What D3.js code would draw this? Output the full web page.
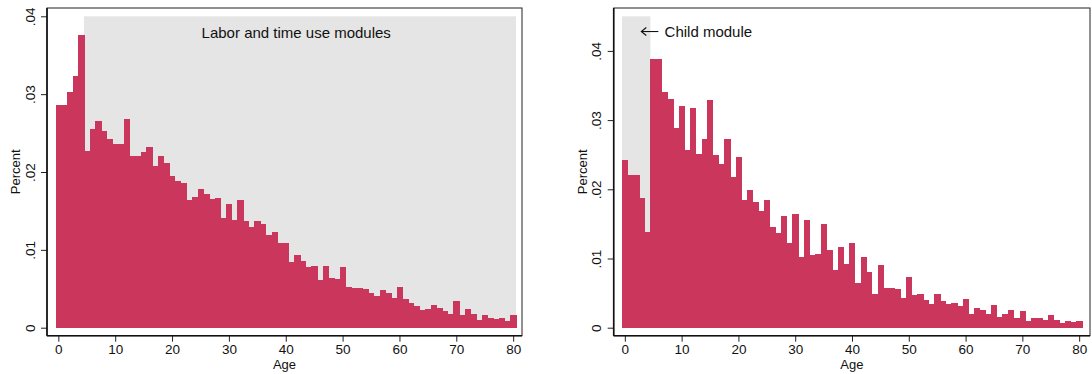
<!DOCTYPE html>
<html>
<head>
<meta charset="utf-8">
<script src="https://cdn.jsdelivr.net/npm/d3@7"></script>
<style>
body{margin:0;background:#fff;}
text{font-family:"Liberation Sans",Arial,sans-serif;fill:#111;}
</style>
</head>
<body>
<svg id="fig" width="1092" height="374"></svg>
<script>
///--------------------Data
var ages = d3.range(0, 81);
var laborPct = [
	.0286,.0286,.0303,.0323,.0376,.0227,.0255,.0265,.0253,.0242,
	.0236,.0236,.0268,.0221,.0221,.0226,.0232,.0208,.0221,.0211,
	.0195,.0189,.0186,.0164,.0168,.0178,.0172,.0165,.0166,.0141,
	.0159,.0138,.0164,.0137,.0129,.0137,.0133,.0119,.0123,.0109,
	.0109,.0084,.0093,.0086,.0078,.0079,.0061,.0079,.0064,.0062,
	.0078,.0052,.0051,.0051,.0050,.0045,.0041,.0048,.0045,.0038,
	.0052,.0037,.0032,.0028,.0023,.0024,.0029,.0025,.0021,.0018,
	.0034,.0016,.0024,.0018,.0010,.0016,.0012,.0011,.0012,.0009,
	.0016];
var childPct = [
	.0242,.0220,.0221,.0188,.0139,.0389,.0389,.0340,.0330,.0289,
	.0320,.0257,.0317,.0251,.0273,.0329,.0250,.0237,.0273,.0218,
	.0247,.0185,.0199,.0182,.0168,.0184,.0145,.0137,.0161,.0122,
	.0165,.0102,.0155,.0105,.0106,.0150,.0112,.0083,.0117,.0092,
	.0122,.0064,.0102,.0081,.0048,.0090,.0057,.0057,.0056,.0043,
	.0073,.0047,.0048,.0040,.0034,.0048,.0038,.0034,.0036,.0031,
	.0041,.0020,.0028,.0025,.0020,.0033,.0015,.0020,.0025,.0014,
	.0024,.0010,.0014,.0014,.0011,.0018,.0011,.0007,.0010,.0008,
	.0010];
// shaded module range: [age from, age to, height]
var shadeLabor = [4.5, 80.5, 0.04];
var shadeChild = [-0.5, 4.5, 0.045];
var yTicks = [0, .01, .02, .03, .04];
var yTickLabels = ["0", ".01", ".02", ".03", ".04"];
var xTicks = [0, 10, 20, 30, 40, 50, 60, 70, 80];

///--------------------Geometry
var barColor = "#cb375c",
	shadeColor = "#e5e5e5",
	frameTop = 8,
	frameBottom = 335.7,
	yZero = 327.7;

var svg = d3.select("#fig");

///--------------------Build
dessin({left:47, right:522, bx0:55.5, bx1:516, y04:16.3}, laborPct, shadeLabor, "labor");
dessin({left:613.7, right:1090, bx0:622, bx1:1082, y04:50.9}, childPct, shadeChild, "child");

function dessin(c, vals, shade, id){
	var g = svg.append("g").attr("id", "g_" + id);
	var x = d3.scaleLinear().domain([-0.5, 80.5]).range([c.bx0, c.bx1]);
	var y = d3.scaleLinear().domain([0, 0.04]).range([yZero, c.y04]);

	g.append("rect")
		.attr("x", x(shade[0]))
		.attr("y", y(shade[2]))
		.attr("width", x(shade[1]) - x(shade[0]))
		.attr("height", y(0) - y(shade[2]))
		.attr("fill", shadeColor);

	g.selectAll(".bar")
		.data(ages)
		.enter()
		.append("rect")
		.attr("class", "bar")
		.attr("x", function(d){ return x(d - 0.5); })
		.attr("y", function(d){ return y(vals[d]); })
		.attr("width", function(d){ return x(d + 0.5) - x(d - 0.5) + 0.6; })
		.attr("height", function(d){ return y(0) - y(vals[d]); })
		.attr("fill", barColor)
		.attr("shape-rendering", "crispEdges");

	// frame
	g.append("rect")
		.attr("x", c.left)
		.attr("y", frameTop)
		.attr("width", c.right - c.left)
		.attr("height", frameBottom - frameTop)
		.attr("fill", "none")
		.attr("stroke", "#222")
		.attr("stroke-width", 1);

	var ax = g.append("g")
		.attr("transform", "translate(" + c.left + ",0)")
		.call(d3.axisLeft(y).tickValues(yTicks).tickSize(6)
			.tickFormat(function(d, i){ return yTickLabels[i]; }));
	ax.select(".domain").remove();
	ax.selectAll("text")
		.attr("x", null).attr("dy", null)
		.attr("text-anchor", "middle")
		.attr("transform", "translate(-12.5,0) rotate(-90)")
		.attr("font-size", 13.5)
		.attr("font-family", null);

	var bx = g.append("g")
		.attr("transform", "translate(0," + frameBottom + ")")
		.call(d3.axisBottom(x).tickValues(xTicks).tickSize(6));
	bx.select(".domain").remove();
	bx.selectAll("text").attr("font-size", 13.5).attr("font-family", null);

	g.selectAll(".tick line").attr("stroke", "#222");

	// heavier axis lines
	g.append("line")
		.attr("x1", c.left).attr("x2", c.left)
		.attr("y1", frameTop).attr("y2", frameBottom)
		.attr("stroke", "#111").attr("stroke-width", 1.6);
	g.append("line")
		.attr("x1", c.left).attr("x2", c.right)
		.attr("y1", frameBottom).attr("y2", frameBottom)
		.attr("stroke", "#111").attr("stroke-width", 1.6);

	g.append("text")
		.text("Percent")
		.attr("text-anchor", "middle")
		.attr("font-size", 13)
		.attr("transform", "translate(" + (c.left - 27) + "," + (frameTop + frameBottom) / 2 + ") rotate(-90)");

	g.append("text")
		.text("Age")
		.attr("text-anchor", "middle")
		.attr("font-size", 13)
		.attr("x", (c.left + c.right) / 2)
		.attr("y", 369);

	if(id == "labor"){
		g.append("text")
			.text("Labor and time use modules")
			.attr("font-size", 15)
			.attr("x", x(25.2))
			.attr("y", y(0.0372));
	} else {
		var ay = y(0.0428);
		g.append("line")
			.attr("x1", x(2.9)).attr("x2", x(5.9))
			.attr("y1", ay).attr("y2", ay)
			.attr("stroke", "#111").attr("stroke-width", 1.1);
		g.append("path")
			.attr("d", "M" + (x(2.9) + 5) + "," + (ay - 4) + "L" + x(2.9) + "," + ay + "L" + (x(2.9) + 5) + "," + (ay + 4))
			.attr("fill", "none")
			.attr("stroke", "#111").attr("stroke-width", 1.1);
		g.append("text")
			.text("Child module")
			.attr("font-size", 15)
			.attr("x", x(7))
			.attr("y", ay + 5.3);
	}
}
</script>
</body>
</html>
